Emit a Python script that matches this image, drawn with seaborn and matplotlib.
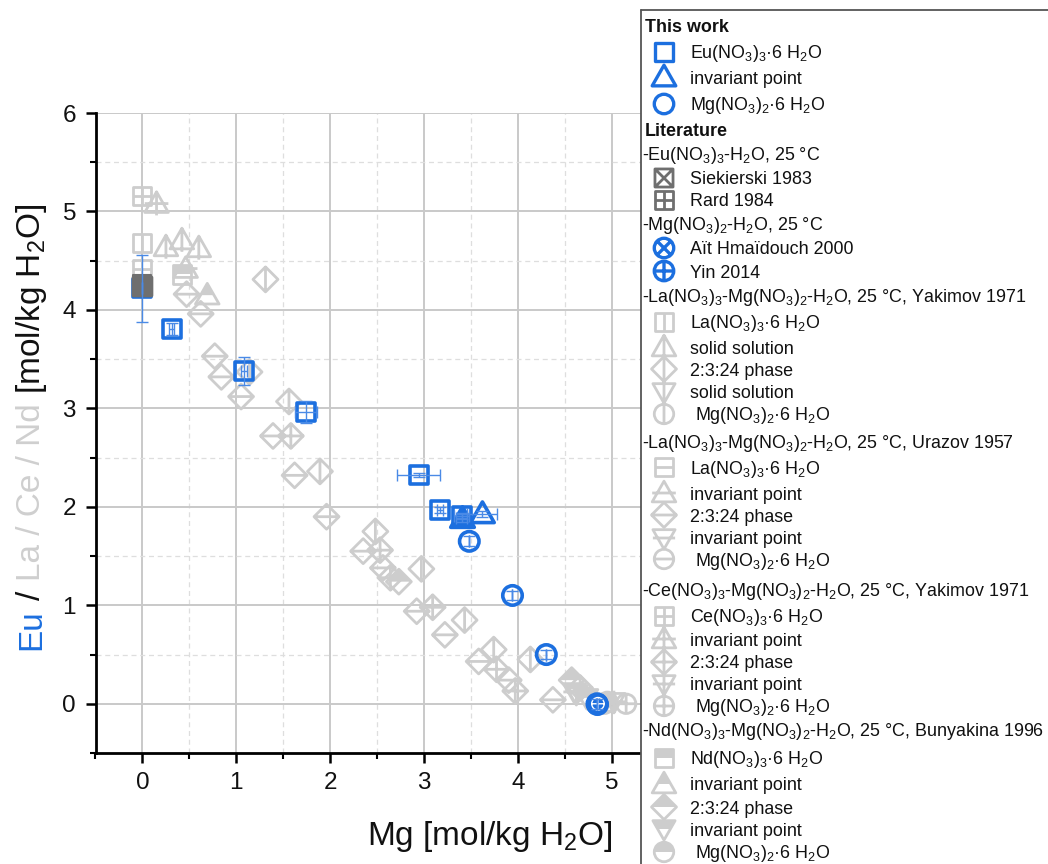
import matplotlib
matplotlib.use("Agg")
import matplotlib.pyplot as plt
from matplotlib.path import Path
from matplotlib.patches import Rectangle
from matplotlib.ticker import MultipleLocator
import numpy as np
import seaborn as sns

# ---------------- data ----------------
# This work
eu_x = [0.00, 0.31, 1.08, 1.74, 2.94, 3.17, 3.40]
eu_y = [4.22, 3.81, 3.38, 2.96, 2.32, 1.97, 1.91]
eu_xerr = [0.00, 0.03, 0.03, 0.12, 0.23, 0.03, 0.08]
eu_yerr = [0.34, 0.06, 0.14, 0.11, 0.02, 0.03, 0.03]
inv_x = [3.40, 3.62]
inv_y = [1.89, 1.93]
inv_xerr = [0.06, 0.16]
inv_yerr = [0.04, 0.03]
mg_x = [3.48, 3.94, 4.30, 4.84]
mg_y = [1.65, 1.10, 0.50, 0.00]
mg_xerr = [0.00, 0.00, 0.00, 0.00]
mg_yerr = [0.05, 0.05, 0.05, 0.05]

# Literature, binary systems
siek_x, siek_y = [0.00], [4.24]
rard_x, rard_y = [0.00], [4.26]
ait_x, ait_y = [4.84], [0.00]
yin_x, yin_y = [4.85], [0.00]

# La(NO3)3-Mg(NO3)2-H2O, Yakimov 1971
laY_salt_x, laY_salt_y = [0.00], [4.68]
laY_ss1_x, laY_ss1_y = [0.25, 0.42, 0.60], [4.64, 4.71, 4.63]
laY_d_x = [1.31, 1.14, 1.56, 1.89, 2.48, 2.97, 3.43, 3.74, 4.13]
laY_d_y = [4.31, 3.37, 3.07, 2.36, 1.75, 1.37, 0.85, 0.55, 0.45]
laY_ss2_x, laY_ss2_y = [4.62], [0.10]
laY_mg_x, laY_mg_y = [4.86], [0.00]

# La(NO3)3-Mg(NO3)2-H2O, Urazov 1957
laU_salt_x, laU_salt_y = [0.00], [4.42]
laU_inv1_x, laU_inv1_y = [0.46], [4.42]
laU_d_x = [0.47, 0.62, 0.77, 0.84, 1.05, 1.39, 1.62, 1.96, 2.35, 2.56, 2.92, 3.22, 3.58, 3.90, 4.37]
laU_d_y = [4.16, 3.96, 3.53, 3.32, 3.12, 2.72, 2.32, 1.90, 1.55, 1.38, 0.94, 0.70, 0.43, 0.24, 0.04]
laU_inv2_x, laU_inv2_y = [4.60], [0.12]
laU_mg_x, laU_mg_y = [4.92], [0.00]

# Ce(NO3)3-Mg(NO3)2-H2O, Yakimov 1971
ce_salt_x, ce_salt_y = [0.00], [5.16]
ce_inv1_x, ce_inv1_y = [0.15], [5.08]
ce_d_x = [1.58, 2.53, 2.64, 3.09, 3.77, 3.97, 4.66]
ce_d_y = [2.72, 1.56, 1.28, 0.98, 0.35, 0.13, 0.16]
ce_inv2_x, ce_inv2_y = [5.02], [0.02]
ce_mg_x, ce_mg_y = [5.15], [0.00]

# Nd(NO3)3-Mg(NO3)2-H2O, Bunyakina 1996
nd_salt_x, nd_salt_y = [0.42], [4.36]
nd_inv1_x, nd_inv1_y = [0.69], [4.15]
nd_d_x, nd_d_y = [2.73, 4.57], [1.24, 0.24]
nd_inv2_x, nd_inv2_y = [4.73], [0.06]
nd_mg_x, nd_mg_y = [4.95], [0.02]

x_ticks = [0, 1, 2, 3, 4, 5]
y_ticks = [0, 1, 2, 3, 4, 5, 6]

# ---------------- style ----------------
sns.set_theme(style="ticks")
plt.rcParams['font.family'] = ['Liberation Sans', 'DejaVu Sans']
plt.rcParams['mathtext.fontset'] = 'custom'
plt.rcParams['mathtext.rm'] = 'Liberation Sans'
plt.rcParams['mathtext.it'] = 'Liberation Sans:italic'
plt.rcParams['mathtext.bf'] = 'Liberation Sans:bold'

BLUE = '#1c6fdf'
EBLUE = '#4a8ae6'
GRAY = '#cdcdcd'
DGRAY = '#6f6f6f'

POLY = {'s': [(-1, -1), (1, -1), (1, 1), (-1, 1)],
        'D': [(0, -1), (1, 0), (0, 1), (-1, 0)],
        '^': [(0, 1), (-1, -0.75), (1, -0.75)],
        'v': [(0, -1), (-1, 0.75), (1, 0.75)]}
HALF = {'s': [(-1, 0), (1, 0), (1, 1), (-1, 1)],
        'D': [(-1, 0), (1, 0), (0, 1)],
        '^': [(-0.571, 0), (0.571, 0), (0, 1)],
        'v': [(-0.571, 0), (0.571, 0), (1, 0.75), (-1, 0.75)],
        'o': [(np.cos(a), np.sin(a)) for a in np.linspace(0, np.pi, 40)]}


def outline_path(shape, inner=None):
    if shape == 'o':
        c = Path.unit_circle()
        verts = [tuple(v) for v in c.vertices]
        codes = list(c.codes)
    else:
        p = POLY[shape]
        verts = p + [p[0]]
        codes = [Path.MOVETO] + [Path.LINETO] * (len(p) - 1) + [Path.CLOSEPOLY]
    segs = []
    if inner in ('v', '+'):
        segs.append([(0, -1), (0, 1)])
    if inner in ('h', '+'):
        segs.append([(-1, 0), (1, 0)])
    if inner == 'x':
        k = 0.707 if shape == 'o' else 1.0
        segs += [[(-k, -k), (k, k)], [(-k, k), (k, -k)]]
    for a, b in segs:
        verts += [a, b]
        codes += [Path.MOVETO, Path.LINETO]
    return Path(verts, codes)


def half_path(shape):
    p = HALF[shape]
    verts = p + [p[0]]
    codes = [Path.MOVETO] + [Path.LINETO] * (len(p) - 1) + [Path.CLOSEPOLY]
    return Path(verts, codes)


def draw(ax, xs, ys, shape, color, size, lw=2.0, inner=None, half=False, fill='none', z=3):
    if half:
        sns.scatterplot(x=xs, y=ys, marker=half_path(shape), s=size ** 2, color=color,
                        facecolor=color, edgecolor='none', linewidth=0, ax=ax, zorder=z, legend=False)
    sns.scatterplot(x=xs, y=ys, marker=outline_path(shape, inner), s=size ** 2, color=color,
                    facecolor=fill, edgecolor=color, linewidth=lw, ax=ax, zorder=z, legend=False)


SZ = {'s': 13, '^': 17, 'D': 18, 'v': 16, 'o': 14}

W, H = 1048, 864
fig = plt.figure(figsize=(W / 100, H / 100), dpi=100)
fig.patch.set_facecolor('white')
ax = fig.add_axes([95.5 / W, 1 - 753 / H, (659 - 95.5) / W, 640 / H])
ax.set_facecolor('white')

# ---------------- literature (gray) ----------------
lit = [
    (laY_salt_x, laY_salt_y, 's', 'v', False), (laY_ss1_x, laY_ss1_y, '^', 'v', False),
    (laY_d_x, laY_d_y, 'D', 'v', False), (laY_ss2_x, laY_ss2_y, 'v', 'v', False),
    (laY_mg_x, laY_mg_y, 'o', 'v', False),
    (laU_salt_x, laU_salt_y, 's', 'h', False), (laU_inv1_x, laU_inv1_y, '^', 'h', False),
    (laU_d_x, laU_d_y, 'D', 'h', False), (laU_inv2_x, laU_inv2_y, 'v', 'h', False),
    (laU_mg_x, laU_mg_y, 'o', 'h', False),
    (ce_salt_x, ce_salt_y, 's', '+', False), (ce_inv1_x, ce_inv1_y, '^', '+', False),
    (ce_d_x, ce_d_y, 'D', '+', False), (ce_inv2_x, ce_inv2_y, 'v', '+', False),
    (ce_mg_x, ce_mg_y, 'o', '+', False),
    (nd_salt_x, nd_salt_y, 's', None, True), (nd_inv1_x, nd_inv1_y, '^', None, True),
    (nd_d_x, nd_d_y, 'D', None, True), (nd_inv2_x, nd_inv2_y, 'v', None, True),
    (nd_mg_x, nd_mg_y, 'o', None, True),
]
for xs, ys, shp, inner, half in lit:
    draw(ax, xs, ys, shp, GRAY, SZ[shp], 2.0, inner, half, z=3)

# ---------------- this work (blue) ----------------
draw(ax, eu_x, eu_y, 's', BLUE, 13, 2.6, z=4)
draw(ax, inv_x[:1], inv_y[:1], '^', BLUE, 17, 2.6, fill=BLUE, z=4)
draw(ax, inv_x[1:], inv_y[1:], '^', BLUE, 17, 2.6, z=4)
draw(ax, mg_x, mg_y, 'o', BLUE, 14, 2.6, z=4)
draw(ax, siek_x, siek_y, 's', DGRAY, 13, 2.6, 'x', fill=DGRAY, z=5)
draw(ax, rard_x, rard_y, 's', DGRAY, 13, 1.5, '+', z=5)
draw(ax, ait_x, ait_y, 'o', BLUE, 14, 2.6, 'x', fill=BLUE, z=5)
draw(ax, yin_x, yin_y, 'o', '#ffffff', 9, 1.0, '+', z=5)
for xs, ys, xe, ye in [(eu_x, eu_y, eu_xerr, eu_yerr), (inv_x, inv_y, inv_xerr, inv_yerr),
                       (mg_x, mg_y, mg_xerr, mg_yerr)]:
    ax.errorbar(xs, ys, xerr=xe, yerr=ye, fmt='none', ecolor=EBLUE, elinewidth=1.0,
                capsize=4.5, capthick=1.0, zorder=6)

# ---------------- axes ----------------
ax.set_xlim(-0.5, 5.5)
ax.set_ylim(-0.5, 6)
ax.set_xticks(x_ticks)
ax.set_yticks(y_ticks)
ax.xaxis.set_minor_locator(MultipleLocator(0.5))
ax.yaxis.set_minor_locator(MultipleLocator(0.5))
ax.set_axisbelow(True)
ax.grid(which='major', color='#c9c9c9', lw=1.4, ls='-')
ax.grid(which='minor', color='#dedede', lw=0.9, ls=(0, (4, 3)))
for s in ['top', 'right']:
    ax.spines[s].set_visible(False)
for s in ['left', 'bottom']:
    ax.spines[s].set_color('black')
    ax.spines[s].set_linewidth(2.0)
ax.tick_params(which='major', direction='out', length=7, width=1.8, color='black',
               labelsize=17.5, pad=7, bottom=True, left=True, labelcolor='#111111')
ax.tick_params(which='minor', direction='out', length=4.5, width=1.5, color='black',
               bottom=True, left=True)
ax.set_xlabel('Mg [mol/kg H$_2$O]', fontsize=24, ha='right', va='center', color='#111111')
ax.xaxis.set_label_coords((613 - 95.5) / (659 - 95.5), (753 - 836) / 640)
ax.set_ylabel('')

# multi-coloured y label
renderer = fig.canvas.get_renderer()
fs = 24
pieces = [('Eu', BLUE), ('/', '#111111'), ('La / Ce / Nd', '#cfcfcf'), ('[mol/kg H$_2$O]', '#111111')]
texts, lengths = [], []
for s, c in pieces:
    t = fig.text(0, 0, s, rotation=90, rotation_mode='anchor', ha='left', va='baseline',
                 fontsize=fs, color=c)
    texts.append(t)
    lengths.append(t.get_window_extent(renderer).height)
gap = 0.278 * fs * 100 / 72
total = sum(lengths) + gap * (len(pieces) - 1)
y0 = (H - 427) - total / 2
for t, L in zip(texts, lengths):
    t.set_position((40 / W, y0 / H))
    y0 += L + gap

# ---------------- legend ----------------
lg = fig.add_axes([0, 0, 1, 1], zorder=10)
lg.patch.set_visible(False)
lg.axis('off')
lg.add_patch(Rectangle((641, 10), 420, 870, facecolor='white', edgecolor='none', zorder=1))
lg.plot([641, 641], [10, 880], color='#555555', lw=1.3, zorder=2)
lg.plot([641, 1060], [10, 10], color='#555555', lw=1.3, zorder=2)

legend_rows = [
    ('head', 'This work', 25, None),
    ('item', 'Eu(NO$_3$)$_3$·6 H$_2$O', 52, ('s', BLUE, None, False, 2.4, 'none')),
    ('item', 'invariant point', 77, ('^', BLUE, None, False, 2.4, 'none')),
    ('item', 'Mg(NO$_3$)$_2$·6 H$_2$O', 104, ('o', BLUE, None, False, 2.4, 'none')),
    ('head', 'Literature', 130, None),
    ('sub', '-Eu(NO$_3$)$_3$-H$_2$O, 25 °C', 153, None),
    ('item', 'Siekierski 1983', 178, ('s', DGRAY, 'x', False, 2.0, 'none')),
    ('item', 'Rard 1984', 200, ('s', DGRAY, '+', False, 2.0, 'none')),
    ('sub', '-Mg(NO$_3$)$_2$-H$_2$O, 25 °C', 223, None),
    ('item', 'Aït Hmaïdouch 2000', 248, ('o', BLUE, 'x', False, 2.4, 'none')),
    ('item', 'Yin 2014', 271, ('o', BLUE, '+', False, 2.4, 'none')),
    ('sub', '-La(NO$_3$)$_3$-Mg(NO$_3$)$_2$-H$_2$O, 25 °C, Yakimov 1971', 296, None),
    ('item', 'La(NO$_3$)$_3$·6 H$_2$O', 322, ('s', GRAY, 'v', False, 2.0, 'none')),
    ('item', 'solid solution', 347, ('^', GRAY, 'v', False, 2.0, 'none')),
    ('item', '2:3:24 phase', 369, ('D', GRAY, 'v', False, 2.0, 'none')),
    ('item', 'solid solution', 392, ('v', GRAY, 'v', False, 2.0, 'none')),
    ('item', ' Mg(NO$_3$)$_2$·6 H$_2$O', 414, ('o', GRAY, 'v', False, 2.0, 'none')),
    ('sub', '-La(NO$_3$)$_3$-Mg(NO$_3$)$_2$-H$_2$O, 25 °C, Urazov 1957', 441, None),
    ('item', 'La(NO$_3$)$_3$·6 H$_2$O', 467, ('s', GRAY, 'h', False, 2.0, 'none')),
    ('item', 'invariant point', 493, ('^', GRAY, 'h', False, 2.0, 'none')),
    ('item', '2:3:24 phase', 515, ('D', GRAY, 'h', False, 2.0, 'none')),
    ('item', 'invariant point', 538, ('v', GRAY, 'h', False, 2.0, 'none')),
    ('item', ' Mg(NO$_3$)$_2$·6 H$_2$O', 559, ('o', GRAY, 'h', False, 2.0, 'none')),
    ('sub', '-Ce(NO$_3$)$_3$-Mg(NO$_3$)$_2$-H$_2$O, 25 °C, Yakimov 1971', 589, None),
    ('item', 'Ce(NO$_3$)$_3$·6 H$_2$O', 616, ('s', GRAY, '+', False, 2.0, 'none')),
    ('item', 'invariant point', 639, ('^', GRAY, '+', False, 2.0, 'none')),
    ('item', '2:3:24 phase', 662, ('D', GRAY, '+', False, 2.0, 'none')),
    ('item', 'invariant point', 684, ('v', GRAY, '+', False, 2.0, 'none')),
    ('item', ' Mg(NO$_3$)$_2$·6 H$_2$O', 706, ('o', GRAY, '+', False, 2.0, 'none')),
    ('sub', '-Nd(NO$_3$)$_3$-Mg(NO$_3$)$_2$-H$_2$O, 25 °C, Bunyakina 1996', 730, None),
    ('item', 'Nd(NO$_3$)$_3$·6 H$_2$O', 758, ('s', GRAY, None, True, 2.0, 'none')),
    ('item', 'invariant point', 784, ('^', GRAY, None, True, 2.0, 'none')),
    ('item', '2:3:24 phase', 807, ('D', GRAY, None, True, 2.0, 'none')),
    ('item', 'invariant point', 829, ('v', GRAY, None, True, 2.0, 'none')),
    ('item', ' Mg(NO$_3$)$_2$·6 H$_2$O', 852, ('o', GRAY, None, True, 2.0, 'none')),
]
LFS = 12.9
for kind, label, y, mk in legend_rows:
    if kind == 'head':
        lg.text(645, y + 6.5, label, fontsize=LFS, fontweight='bold', ha='left', va='baseline',
                color='#111111', zorder=3)
    elif kind == 'sub':
        lg.text(642, y + 6.5, label, fontsize=LFS, ha='left', va='baseline', color='#111111', zorder=3)
    else:
        shp, col, inner, half, lw, fill = mk
        draw(lg, [664], [y], shp, col, SZ[shp], lw, inner, half, fill, z=3)
        xt = 695 if label.startswith(' ') else 690
        lg.text(xt, y + 6.5, label.strip(), fontsize=LFS, ha='left', va='baseline',
                color='#111111', zorder=3)
lg.set_xlim(0, W)
lg.set_ylim(H, 0)

fig.savefig('out.png', dpi=100, facecolor='white')
